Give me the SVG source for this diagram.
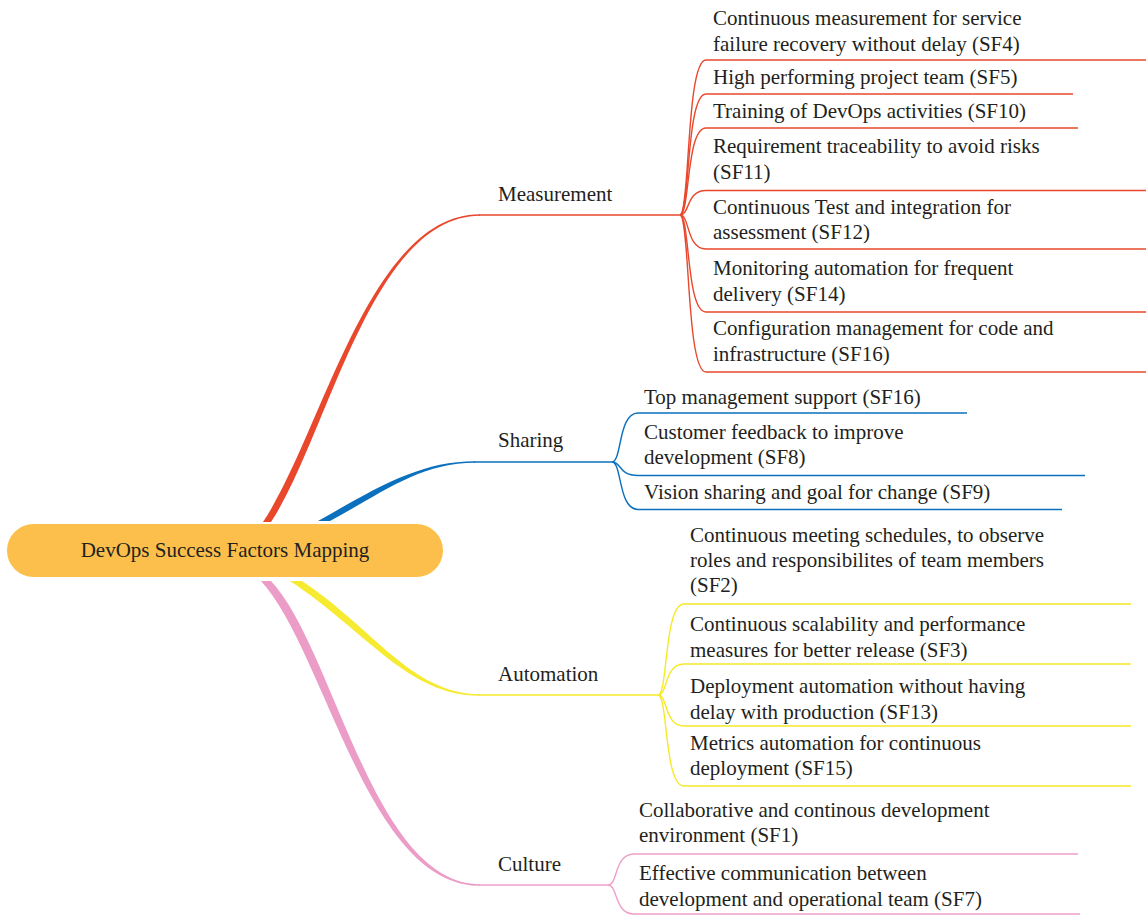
<svg xmlns="http://www.w3.org/2000/svg" width="1146" height="915" viewBox="0 0 1146 915">
<style>
.t{font-family:"Liberation Serif","Times New Roman",serif;font-size:21px;fill:#231f20}
.mid{text-anchor:middle}
.ln{fill:none;stroke-width:1.4;stroke-linecap:butt}
.br{fill:none;stroke-width:1.6}
.red{stroke:#e9482d}
.blue{stroke:#0b70be}
.yel{stroke:#f6e928}
.pink{stroke:#ee9fc9}
.fred{fill:#e9482d}
.fblue{fill:#0b70be}
.fyel{fill:#f6eb30}
.fpink{fill:#eb9cc7}
</style>
<rect width="1146" height="915" fill="#ffffff"/>
<g id="connectors">
  <!-- main tapered branches -->
  <path class="fred" d="M263,522 C322,434 369,214 480,214.2 L480,215.8 C371,216 328,436 271,522 Z"/>
  <path class="br red" d="M479,215 H680"/>
  <path class="fblue" d="M318,521 C378,487 420,461.3 475,461.3 L475,462.7 C420,462.7 382,493 330,521 Z"/>
  <path class="br blue" d="M474,462 H612"/>
  <path class="fyel" d="M302,581 C373,628 412,694.2 480,694.2 L480,695.8 C408,695.8 367,632 290,581 Z"/>
  <path class="br yel" d="M479,695 H658"/>
  <path class="fpink" d="M271,581 C334,648 373,884.2 480,884.2 L480,885.8 C367,886 326,652 261,581 Z"/>
  <path class="br pink" d="M479,885 H608"/>
  <!-- Measurement sub-branches -->
  <g class="ln red">
    <path d="M680,215 C690,215 686,60 706,60 H1146"/>
    <path d="M680,215 C690,215 686,94 706,94 H1073"/>
    <path d="M680,215 C690,215 686,128 706,128 H1078"/>
    <path d="M680,215 C690,215 686,190.5 706,190.5 H1146"/>
    <path d="M680,215 C690,215 686,249 706,249 H1146"/>
    <path d="M680,215 C690,215 686,312 706,312 H1146"/>
    <path d="M680,215 C690,215 686,372 706,372 H1146"/>
  </g>
  <!-- Sharing sub-branches -->
  <g class="ln blue">
    <path d="M612,462 C622,462 618,413 638,413 H967"/>
    <path d="M612,462 C622,462 618,475.5 638,475.5 H1085"/>
    <path d="M612,462 C622,462 618,509.5 638,509.5 H1062"/>
  </g>
  <!-- Automation sub-branches -->
  <g class="ln yel">
    <path d="M658,695 C668,695 664,604 684,604 H1131"/>
    <path d="M658,695 C668,695 664,664 684,664 H1131"/>
    <path d="M658,695 C668,695 664,726 684,726 H1131"/>
    <path d="M658,695 C668,695 664,786 684,786 H1131"/>
  </g>
  <!-- Culture sub-branches -->
  <g class="ln pink">
    <path d="M608,885 C618,885 614,854 634,854 H1078"/>
    <path d="M608,885 C618,885 614,914 634,914 H1080"/>
  </g>
</g>
<g id="root">
  <rect x="7" y="524" width="436" height="53" rx="26.5" fill="#fdbf4b"/>
  <text class="t mid" x="225" y="557">DevOps Success Factors Mapping</text>
</g>
<g id="measurement"><text class="t" x="498" y="201">Measurement</text></g>
<g id="sharing"><text class="t" x="498" y="447">Sharing</text></g>
<g id="automation"><text class="t" x="498" y="681">Automation</text></g>
<g id="culture"><text class="t" x="498" y="871">Culture</text></g>

<g id="sf4"><text class="t" x="713" y="25"><tspan x="713">Continuous measurement for service</tspan><tspan x="713" dy="25.5">failure recovery without delay (SF4)</tspan></text></g>
<g id="sf5"><text class="t" x="713" y="83.5">High performing project team (SF5)</text></g>
<g id="sf10"><text class="t" x="713" y="118">Training of DevOps activities (SF10)</text></g>
<g id="sf11"><text class="t" x="713" y="153"><tspan x="713">Requirement traceability to avoid risks</tspan><tspan x="713" dy="25.5">(SF11)</tspan></text></g>
<g id="sf12"><text class="t" x="713" y="213.5"><tspan x="713">Continuous Test and integration for</tspan><tspan x="713" dy="25.5">assessment (SF12)</tspan></text></g>
<g id="sf14"><text class="t" x="713" y="275"><tspan x="713">Monitoring automation for frequent</tspan><tspan x="713" dy="25.5">delivery (SF14)</tspan></text></g>
<g id="sf16-config"><text class="t" x="713" y="335"><tspan x="713">Configuration management for code and</tspan><tspan x="713" dy="25.5">infrastructure (SF16)</tspan></text></g>

<g id="sf16-top"><text class="t" x="644" y="403.5">Top management support (SF16)</text></g>
<g id="sf8"><text class="t" x="644" y="438.5"><tspan x="644">Customer feedback to improve</tspan><tspan x="644" dy="25.5">development (SF8)</tspan></text></g>
<g id="sf9"><text class="t" x="644" y="498.5">Vision sharing and goal for change (SF9)</text></g>

<g id="sf2"><text class="t" x="690" y="541.5"><tspan x="690">Continuous meeting schedules, to observe</tspan><tspan x="690" dy="25.5">roles and responsibilites of team members</tspan><tspan x="690" dy="25">(SF2)</tspan></text></g>
<g id="sf3"><text class="t" x="690" y="631"><tspan x="690">Continuous scalability and performance</tspan><tspan x="690" dy="25.5">measures for better release (SF3)</tspan></text></g>
<g id="sf13"><text class="t" x="690" y="693"><tspan x="690">Deployment automation without having</tspan><tspan x="690" dy="25.5">delay with production (SF13)</tspan></text></g>
<g id="sf15"><text class="t" x="690" y="749.5"><tspan x="690">Metrics automation for continuous</tspan><tspan x="690" dy="25.5">deployment (SF15)</tspan></text></g>

<g id="sf1"><text class="t" x="639" y="816.5"><tspan x="639">Collaborative and continous development</tspan><tspan x="639" dy="25.5">environment (SF1)</tspan></text></g>
<g id="sf7"><text class="t" x="639" y="880"><tspan x="639">Effective communication between</tspan><tspan x="639" dy="25.5">development and operational team (SF7)</tspan></text></g>
</svg>
